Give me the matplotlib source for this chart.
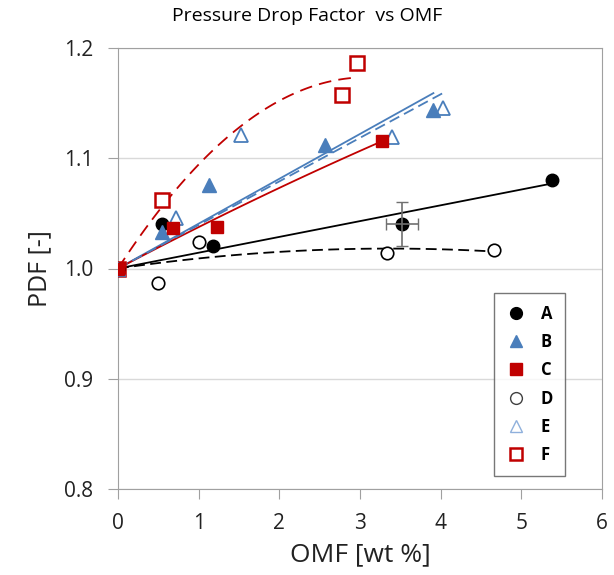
import numpy as np
import matplotlib.pyplot as plt
from matplotlib.lines import Line2D

plt.rcParams['font.family'] = ['Open Sans', 'DejaVu Sans']

# OMF [wt %] and PDF [-] per series
a_x = [0, 0.54, 1.18, 3.52, 5.38]
a_y = [1.0, 1.040, 1.020, 1.040, 1.080]
b_x = [0, 0.55, 1.13, 2.57, 3.91]
b_y = [1.0, 1.033, 1.076, 1.112, 1.144]
c_x = [0, 0.68, 1.23, 3.27]
c_y = [1.0, 1.037, 1.038, 1.116]
d_x = [0, 0.49, 1.00, 3.34, 4.66]
d_y = [1.0, 0.987, 1.024, 1.014, 1.017]
e_x = [0, 0.72, 1.52, 3.40, 4.03]
e_y = [1.0, 1.046, 1.121, 1.119, 1.146]
f_x = [0, 0.55, 2.78, 2.96]
f_y = [1.0, 1.062, 1.157, 1.186]

# error bar on one A point
err_x, err_y = 3.52, 1.040
err_dx, err_dy = 0.2, 0.02


def fit_origin(x, y, deg):
    # least squares trend through (0, 1)
    x = np.array(x)
    y = np.array(y) - 1.0
    A = np.column_stack([x ** k for k in range(1, deg + 1)])
    coef = np.linalg.lstsq(A, y, rcond=None)[0]
    xs = np.linspace(0, x.max(), 100)
    ys = 1.0 + sum(c * xs ** (k + 1) for k, c in enumerate(coef))
    return xs, ys


fig = plt.figure(figsize=(6.14, 5.75), dpi=100)
ax = fig.add_axes([118 / 614, 1 - 489 / 575, 484 / 614, 441 / 575])

blue = '#4a7ebb'
red = '#c00000'

# trend lines
xs, ys = fit_origin(a_x, a_y, 1)
ax.plot(xs, ys, color='black', lw=1.3)
xs, ys = fit_origin(b_x, b_y, 1)
ax.plot(xs, ys, color=blue, lw=1.3)
xs, ys = fit_origin(c_x, c_y, 2)
ax.plot(xs, ys, color=red, lw=1.3)
xs, ys = fit_origin(d_x, d_y, 2)
ax.plot(xs, ys, color='black', lw=1.3, dashes=(6, 3))
xs, ys = fit_origin(e_x, e_y, 1)
ax.plot(xs, ys, color=blue, lw=1.3, dashes=(6, 3))
xs, ys = fit_origin(f_x, f_y, 2)
ax.plot(xs, ys, color=red, lw=1.3, dashes=(7, 4))

ax.errorbar(err_x, err_y, xerr=err_dx, yerr=err_dy, fmt='none',
            ecolor='#707070', elinewidth=1.2, capsize=4, zorder=5)

ax.plot(a_x, a_y, 'o', ms=9, color='black', ls='none', zorder=4)
ax.plot(b_x, b_y, '^', ms=10, color=blue, ls='none', zorder=4)
ax.plot(c_x, c_y, 's', ms=9, color=red, ls='none', zorder=4)
ax.plot(d_x, d_y, 'o', ms=9, mfc='white', mec='black', mew=1.2, ls='none', zorder=3)
ax.plot(e_x, e_y, '^', ms=10, mfc='none', mec=blue, mew=1.3, ls='none', zorder=3)
ax.plot(f_x, f_y, 's', ms=10, mfc='white', mec=red, mew=1.8, ls='none', zorder=3)

ax.set_xlim(0, 6)
ax.set_ylim(0.8, 1.2)
ax.set_xticks(range(0, 7))
ax.set_yticks([0.8, 0.9, 1.0, 1.1, 1.2])
ax.set_yticklabels(['0.8', '0.9', '1.0', '1.1', '1.2'])
ax.yaxis.grid(True, color='#d9d9d9', lw=1)
ax.set_axisbelow(True)
for s in ax.spines.values():
    s.set_color('#a0a0a0')
ax.tick_params(colors='#a0a0a0', labelcolor='#222222', labelsize=15, length=7, direction='out')
ax.tick_params(axis='x', pad=10)
ax.tick_params(axis='y', pad=11)

ax.set_xlabel('OMF [wt %]', fontsize=19, color='#222222', labelpad=6)
ax.set_ylabel('PDF [-]', fontsize=18, color='#222222', labelpad=8)
fig.text(0.5, 1 - 16 / 575, 'Pressure Drop Factor  vs OMF', ha='center', va='center', fontsize=14)

handles = [
    Line2D([], [], marker='o', color='black', ls='none', ms=8.5),
    Line2D([], [], marker='^', color=blue, ls='none', ms=8.5),
    Line2D([], [], marker='s', color=red, ls='none', ms=8.5),
    Line2D([], [], marker='o', mfc='white', mec='#404040', ls='none', ms=8.5),
    Line2D([], [], marker='^', mfc='none', mec='#8fb0dc', ls='none', ms=8.5),
    Line2D([], [], marker='s', mfc='white', mec=red, mew=1.8, ls='none', ms=8.5),
]
leg = ax.legend(handles, ['A', 'B', 'C', 'D', 'E', 'F'], loc='upper left',
                bbox_to_anchor=((494 - 118) / 484, (489 - 293) / 441),
                frameon=True, fancybox=False, edgecolor='#555555',
                prop={'weight': 'bold', 'size': 12}, labelspacing=0.62,
                handlelength=1.2, handletextpad=0.9, borderpad=0.7,
                borderaxespad=0)
leg.get_frame().set_linewidth(1.0)

fig.savefig('out.png', dpi=100)
